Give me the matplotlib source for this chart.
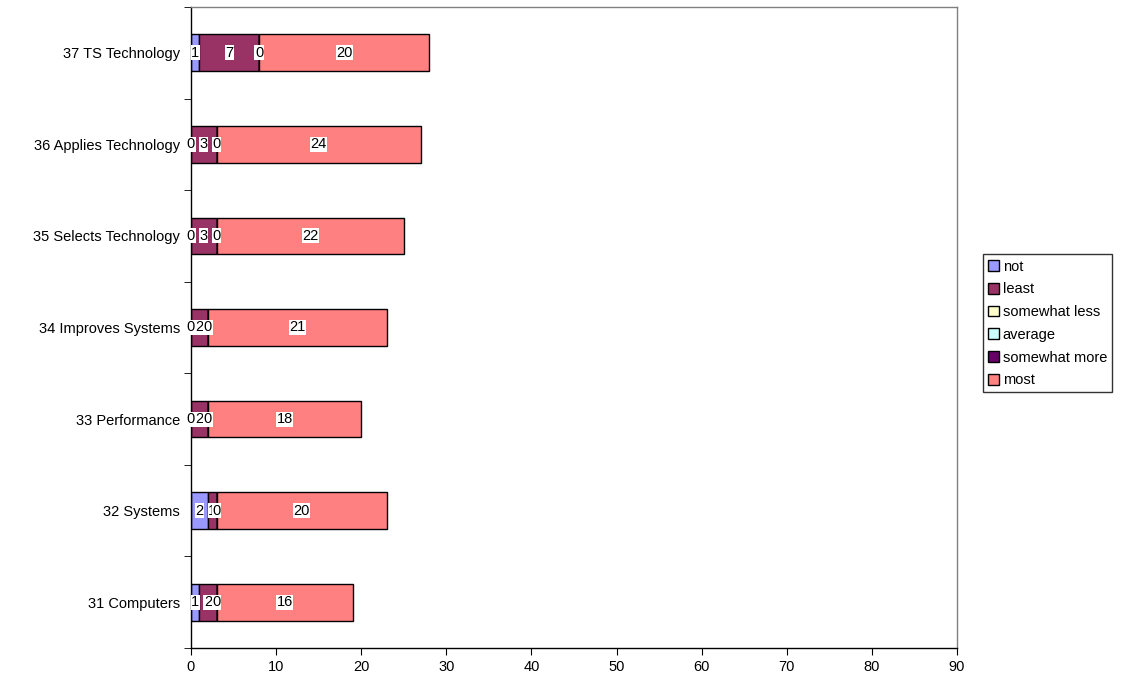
import matplotlib.pyplot as plt
import numpy as np

plt.rcParams['font.family'] = ['Liberation Sans', 'DejaVu Sans']

categories = ['31 Computers', '32 Systems', '33 Performance', '34 Improves Systems',
              '35 Selects Technology', '36 Applies Technology', '37 TS Technology']
series = ['not', 'least', 'somewhat less', 'average', 'somewhat more', 'most']
colors = ['#9999FF', '#993366', '#FFFFCC', '#CCFFFF', '#660066', '#FF8080']

# None = no answer recorded, so no bar and no label
not_vals = [1, 2, 0, 0, 0, 0, 1]
least_vals = [2, 1, 2, 2, 3, 3, 7]
less_vals = [None] * 7
average_vals = [None] * 7
more_vals = [0, 0, 0, 0, 0, 0, 0]
most_vals = [16, 20, 18, 21, 22, 24, 20]

data = [not_vals, least_vals, less_vals, average_vals, more_vals, most_vals]

fig = plt.figure(figsize=(11.24, 6.84), dpi=100)
ax = fig.add_axes([0.1699, 0.0526, 0.6815, 0.9372])

y = np.arange(len(categories))
left = np.zeros(len(categories))
for k, (name, vals, col) in enumerate(zip(series, data, colors)):
    v = np.array([0 if x is None else x for x in vals], dtype=float)
    ax.barh(y, v, left=left, height=0.4, color=col, edgecolor='black',
            linewidth=1, label=name)
    for i, x in enumerate(vals):
        if x is None:
            continue
        ax.text(left[i] + x / 2, y[i], str(x), ha='center', va='center',
                fontsize=10.5, zorder=5 + k,
                bbox=dict(facecolor='white', edgecolor='none', pad=0.3))
    left += v

ax.set_xlim(0, 90)
ax.set_ylim(-0.5, len(categories) - 0.5)
ax.set_xticks(np.arange(0, 91, 10))
ax.set_yticks(y)
ax.set_yticklabels(categories)
ax.tick_params(axis='y', length=0, labelsize=10.5, pad=8)
ax.tick_params(axis='x', length=5, labelsize=10.5, direction='out')
# tick marks between categories
ax.set_yticks(np.arange(-0.5, len(categories), 1), minor=True)
ax.tick_params(axis='y', which='minor', length=5, direction='out')
for s in ax.spines.values():
    s.set_linewidth(1)
    s.set_color('black')
ax.spines['top'].set_color('#808080')
ax.spines['right'].set_color('#808080')

fig.legend(loc='upper left', bbox_to_anchor=(0.8745, 0.628), frameon=True,
           fancybox=False, edgecolor='black', fontsize=10.5, handlelength=0.75,
           handleheight=0.75, handletextpad=0.25, labelspacing=0.6,
           borderpad=0.35, borderaxespad=0)

fig.savefig('out.png', dpi=100)
